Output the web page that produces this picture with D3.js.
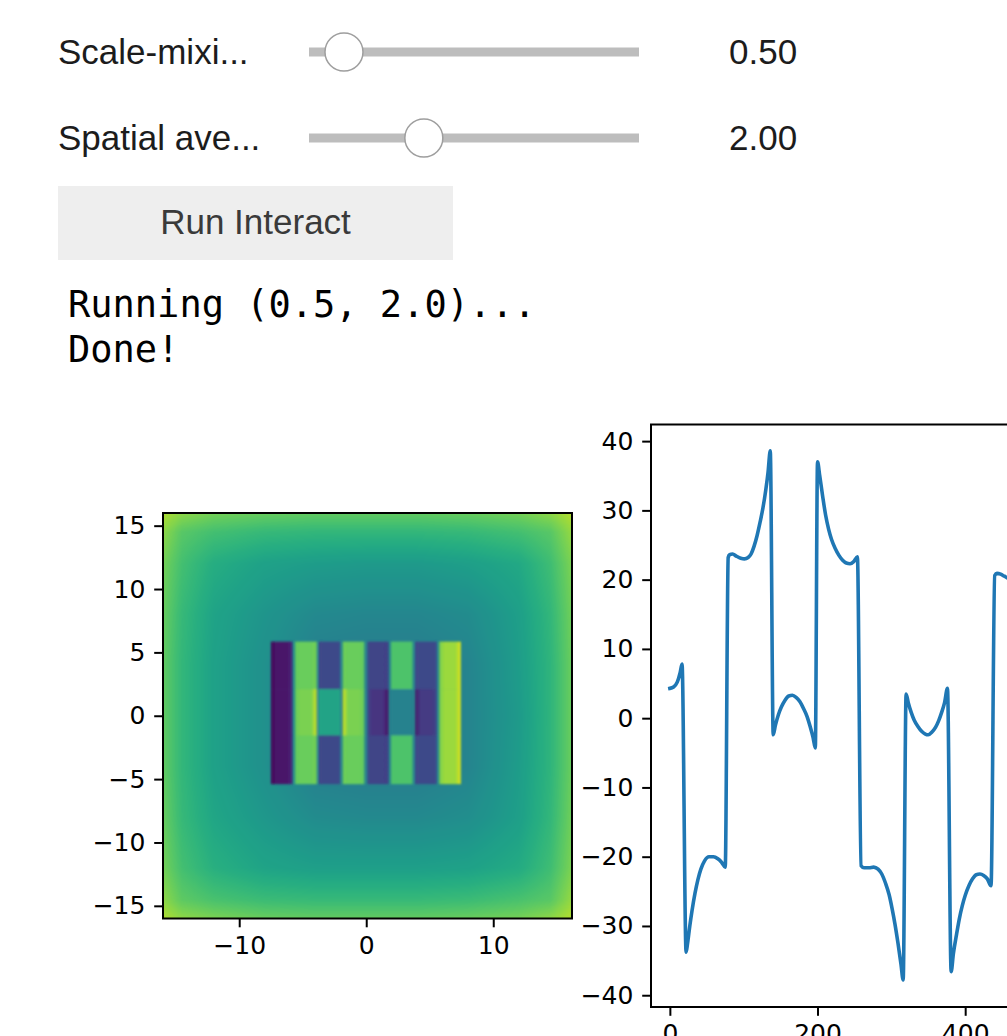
<!DOCTYPE html>
<html>
<head>
<meta charset="utf-8">
<script src="https://cdnjs.cloudflare.com/ajax/libs/d3/7.8.5/d3.min.js"></script>
<style>
  body { margin: 0; background: #fff; overflow: hidden; }
  svg { display: block; }
</style>
</head>
<body>
<div id="page"></div>
<script>
// ---- widget texts / state
const sliderLabels = ["Scale-mixi...", "Spatial ave..."];
const sliderValues = ["0.50", "2.00"];
const sliderPos = [0.106, 0.348];          // handle position along the track (0..1)
const buttonLabel = "Run Interact";
const outputLines = ["Running (0.5, 2.0)...", "Done!"];

// ---- heatmap: smooth background field sampled on a coarse grid
const gridX = [-16, -14.5, -12, -8, -4, 0, 4, 8, 12, 14.5, 16];
const gridY = [16, 14.5, 12, 8, 4, 0, -4, -8, -12, -14.5, -16];
const fieldRows = [
  [0.88, 0.83, 0.79, 0.77, 0.76, 0.76, 0.76, 0.77, 0.79, 0.83, 0.88],
  [0.83, 0.74, 0.70, 0.67, 0.66, 0.66, 0.66, 0.67, 0.70, 0.74, 0.83],
  [0.79, 0.70, 0.62, 0.57, 0.55, 0.54, 0.54, 0.56, 0.60, 0.69, 0.79],
  [0.77, 0.67, 0.58, 0.52, 0.47, 0.46, 0.46, 0.48, 0.56, 0.66, 0.77],
  [0.76, 0.66, 0.57, 0.50, 0.43, 0.42, 0.42, 0.45, 0.55, 0.65, 0.76],
  [0.76, 0.66, 0.57, 0.50, 0.44, 0.43, 0.43, 0.45, 0.54, 0.65, 0.76],
  [0.76, 0.66, 0.57, 0.50, 0.43, 0.42, 0.42, 0.45, 0.55, 0.65, 0.76],
  [0.77, 0.67, 0.59, 0.53, 0.48, 0.47, 0.47, 0.49, 0.56, 0.66, 0.77],
  [0.79, 0.70, 0.63, 0.58, 0.56, 0.56, 0.56, 0.57, 0.61, 0.69, 0.79],
  [0.83, 0.75, 0.71, 0.68, 0.67, 0.67, 0.67, 0.68, 0.71, 0.74, 0.83],
  [0.88, 0.83, 0.80, 0.77, 0.76, 0.76, 0.76, 0.77, 0.79, 0.83, 0.88]
];

// ---- heatmap: the eight bars (data coords) and their values [left, middle, right]
const barLeft  = [-7.5, -5.6, -3.75, -1.85, 0.1, 1.95, 3.85, 5.75];
const barRight = [-5.8, -3.9, -2.05, -0.15, 1.75, 3.65, 5.55, 7.45];
const barTop = 5.85, barBottom = -5.35;     // bar extent in y
const bandTop = 2.1, bandBottom = -1.55;    // middle band in y
const barOuter = [
  [0.01, 0.06, 0.12], [0.76, 0.77, 0.79], [0.21, 0.22, 0.23], [0.78, 0.77, 0.76],
  [0.21, 0.20, 0.19], [0.72, 0.72, 0.72], [0.21, 0.22, 0.23], [0.80, 0.85, 0.95]
];
const barBand = [
  [0.01, 0.06, 0.12], [0.77, 0.80, 0.93], [0.59, 0.58, 0.59], [0.93, 0.80, 0.77],
  [0.20, 0.15, 0.04], [0.44, 0.44, 0.44], [0.06, 0.17, 0.21], [0.80, 0.85, 0.95]
];
const heatXTicks = [-10, 0, 10];
const heatYTicks = [15, 10, 5, 0, -5, -10, -15];

// ---- line plot (sample index, value)
const lineIdx = [0, 5, 10, 14, 16.5, 22, 24, 27, 30, 34, 38, 42, 47, 53, 59, 65, 70, 75,
  79, 81, 85, 90, 96, 101, 106, 110, 114, 118, 122, 126, 130, 133, 136,
  140, 143, 147, 151, 156, 161, 166, 171, 176, 181, 186, 190, 194, 197,
  200, 203, 207, 211, 215, 219, 224, 229, 234, 239, 244, 249, 254,
  259, 263, 270, 276, 282, 287, 292, 297, 301, 305, 309, 313, 316,
  320, 323, 327, 331, 336, 341, 346, 350, 355, 360, 364, 368, 372, 376,
  381, 384, 388, 392, 396, 400, 405, 410, 415, 420, 425, 430, 435,
  440, 443, 448, 453, 460, 470];
const lineVal = [4.3, 4.5, 5.2, 6.6, 7.8, -33.8, -32.5, -30, -27.8, -25.3, -23.3, -21.8, -20.6, -20, -20, -20.3, -20.8, -21.5,
  23.2, 23.6, 23.7, 23.4, 23.1, 23, 23.2, 23.7, 24.8, 26.3, 28.2, 30.3, 33, 35.5, 38.6,
  -2.4, -1.0, 0.5, 1.6, 2.6, 3.2, 3.3, 3.0, 2.4, 1.4, 0.2, -1.2, -2.8, -4.3,
  37.0, 35.0, 32.0, 29.3, 27.3, 25.8, 24.5, 23.5, 22.8, 22.4, 22.3, 22.6, 23.3,
  -21.3, -21.6, -21.6, -21.5, -21.8, -22.5, -23.8, -25.5, -27.5, -29.8, -32.5, -35.5, -37.8,
  3.5, 2.2, 0.8, -0.3, -1.2, -1.9, -2.3, -2.4, -2.0, -1.3, -0.4, 0.8, 2.2, 4.3,
  -36.6, -34, -31.4, -29, -27.1, -25.6, -24.2, -23.2, -22.6, -22.5, -22.7, -23.2, -24.2,
  20.6, 20.9, 20.8, 20.5, 20.1, 19.8];
const lineXTicks = [0, 200, 400];
const lineYTicks = [40, 30, 20, 10, 0, -10, -20, -30, -40];

// ---------------------------------------------------------------
const W = 1007, H = 1036;
const svg = d3.select("#page").append("svg").attr("width", W).attr("height", H);
const defs = svg.append("defs");

const labelFont = "'Liberation Sans', Arial, sans-serif";
const tickFont = "'DejaVu Sans', sans-serif";

// sliders
const track = d3.scaleLinear().domain([0, 1]).range([309, 639]);
sliderLabels.forEach((lab, i) => {
  const cy = 52 + i * 86;
  svg.append("text").attr("x", 58).attr("y", cy + 12)
    .style("font-family", labelFont).style("font-size", "35px").style("fill", "#1c1c1c")
    .text(lab);
  svg.append("rect").attr("x", track(0)).attr("y", cy - 4.5)
    .attr("width", track(1) - track(0)).attr("height", 9).attr("fill", "#bdbdbd");
  svg.append("circle").attr("cx", track(sliderPos[i])).attr("cy", cy).attr("r", 19)
    .attr("fill", "#fff").attr("stroke", "#9e9e9e").attr("stroke-width", 1.5);
  svg.append("text").attr("x", 729).attr("y", cy + 12)
    .style("font-family", labelFont).style("font-size", "35px").style("fill", "#1c1c1c")
    .text(sliderValues[i]);
});

// button
svg.append("rect").attr("x", 58).attr("y", 186).attr("width", 395).attr("height", 74)
  .attr("fill", "#eeeeee");
svg.append("text").attr("x", 255.5).attr("y", 234).attr("text-anchor", "middle")
  .style("font-family", labelFont).style("font-size", "35px").style("fill", "#3a3a3a")
  .text(buttonLabel);

// printed output
svg.selectAll(".out").data(outputLines).join("text")
  .attr("class", "out").attr("x", 68).attr("y", (d, i) => 317 + i * 45)
  .style("font-family", "'DejaVu Sans Mono', monospace").style("font-size", "37px")
  .style("fill", "#000").style("white-space", "pre")
  .text(d => d);

function styleAxis(g) {
  g.select(".domain").remove();
  g.selectAll(".tick line").attr("stroke", "#000").attr("stroke-width", 2);
  g.selectAll(".tick text").style("font-family", tickFont).style("font-size", "25px").attr("fill", "#000");
}

// ---- heatmap
const color = d3.scaleSequential(d3.interpolateViridis).domain([0, 1]);
const hx = d3.scaleLinear().domain([-16, 16.2]).range([163, 572]);
const hy = d3.scaleLinear().domain([-16, 16]).range([918.5, 513]);

const ix = d3.scaleLinear().domain(gridX).range(d3.range(gridX.length)).clamp(true);
const iy = d3.scaleLinear().domain(gridY).range(d3.range(gridY.length)).clamp(true);
const cw = Math.round(hx(16.2) - hx(-16)), ch = Math.round(hy(-16) - hy(16));
const canvas = document.createElement("canvas");
canvas.width = cw; canvas.height = ch;
const ctx = canvas.getContext("2d");
const img = ctx.createImageData(cw, ch);
for (let j = 0; j < ch; j++) {
  const fy = iy(hy.invert(hy(16) + j + 0.5));
  const j0 = Math.min(Math.floor(fy), gridY.length - 2), ty = fy - j0;
  for (let i = 0; i < cw; i++) {
    const fx = ix(hx.invert(hx(-16) + i + 0.5));
    const i0 = Math.min(Math.floor(fx), gridX.length - 2), tx = fx - i0;
    const v = (1 - ty) * ((1 - tx) * fieldRows[j0][i0] + tx * fieldRows[j0][i0 + 1]) +
              ty * ((1 - tx) * fieldRows[j0 + 1][i0] + tx * fieldRows[j0 + 1][i0 + 1]);
    const c = d3.rgb(color(v));
    const k = (j * cw + i) * 4;
    img.data[k] = c.r; img.data[k + 1] = c.g; img.data[k + 2] = c.b; img.data[k + 3] = 255;
  }
}
ctx.putImageData(img, 0, 0);

const heat = svg.append("g");
heat.append("image").attr("href", canvas.toDataURL())
  .attr("x", hx(-16)).attr("y", hy(16)).attr("width", cw).attr("height", ch)
  .attr("preserveAspectRatio", "none");

defs.append("filter").attr("id", "soft").attr("x", "-20%").attr("y", "-20%")
  .attr("width", "140%").attr("height", "140%")
  .append("feGaussianBlur").attr("stdDeviation", 1.1);

const segs = [];
barLeft.forEach((x0, b) => {
  segs.push({ b, x0, x1: barRight[b], y0: bandTop, y1: barTop, v: barOuter[b] });
  segs.push({ b, x0, x1: barRight[b], y0: bandBottom, y1: bandTop, v: barBand[b] });
  segs.push({ b, x0, x1: barRight[b], y0: barBottom, y1: bandBottom, v: barOuter[b] });
});
segs.forEach((s, k) => {
  const gr = defs.append("linearGradient").attr("id", "bg" + k)
    .attr("x1", 0).attr("x2", 1).attr("y1", 0).attr("y2", 0);
  [[0, s.v[0]], [0.25, s.v[1]], [0.75, s.v[1]], [1, s.v[2]]].forEach(([o, v]) =>
    gr.append("stop").attr("offset", o).attr("stop-color", color(v)));
});
heat.append("g").attr("filter", "url(#soft)")
  .selectAll("rect").data(segs).join("rect")
  .attr("x", d => hx(d.x0)).attr("width", d => hx(d.x1) - hx(d.x0))
  .attr("y", d => hy(d.y1)).attr("height", d => hy(d.y0) - hy(d.y1) + 0.6)
  .attr("fill", (d, k) => `url(#bg${k})`);

heat.append("rect").attr("x", hx(-16)).attr("y", hy(16))
  .attr("width", hx(16.2) - hx(-16)).attr("height", hy(-16) - hy(16))
  .attr("fill", "none").attr("stroke", "#000").attr("stroke-width", 2);

svg.append("g").attr("transform", `translate(0,${hy(-16)})`)
  .call(d3.axisBottom(hx).tickValues(heatXTicks).tickSize(8.8).tickPadding(8.8))
  .call(styleAxis);
svg.append("g").attr("transform", `translate(${hx(-16)},0)`)
  .call(d3.axisLeft(hy).tickValues(heatYTicks).tickSize(8.8).tickPadding(8.8))
  .call(styleAxis);

// ---- line plot
const lx = d3.scaleLinear().domain([-25.55, 536.55]).range([651, 1066]);
const ly = d3.scaleLinear().domain([-41.7, 42.4]).range([1007, 424.5]);

defs.append("clipPath").attr("id", "lclip").append("rect")
  .attr("x", lx.range()[0]).attr("y", ly.range()[1])
  .attr("width", lx.range()[1] - lx.range()[0]).attr("height", ly.range()[0] - ly.range()[1]);

const pts = lineIdx.map((x, i) => [x, lineVal[i]]);
svg.append("path").datum(pts)
  .attr("clip-path", "url(#lclip)")
  .attr("fill", "none").attr("stroke", "#1f77b4").attr("stroke-width", 3.6)
  .attr("stroke-linejoin", "round").attr("stroke-linecap", "square")
  .attr("d", d3.line().x(d => lx(d[0])).y(d => ly(d[1])).curve(d3.curveMonotoneX));

svg.append("rect").attr("x", lx.range()[0]).attr("y", ly.range()[1])
  .attr("width", lx.range()[1] - lx.range()[0]).attr("height", ly.range()[0] - ly.range()[1])
  .attr("fill", "none").attr("stroke", "#000").attr("stroke-width", 2);

svg.append("g").attr("transform", `translate(0,${ly.range()[0]})`)
  .call(d3.axisBottom(lx).tickValues(lineXTicks).tickSize(8.8).tickPadding(8.8))
  .call(styleAxis);
svg.append("g").attr("transform", `translate(${lx.range()[0]},0)`)
  .call(d3.axisLeft(ly).tickValues(lineYTicks).tickSize(8.8).tickPadding(8.8))
  .call(styleAxis);
</script>
</body>
</html>
